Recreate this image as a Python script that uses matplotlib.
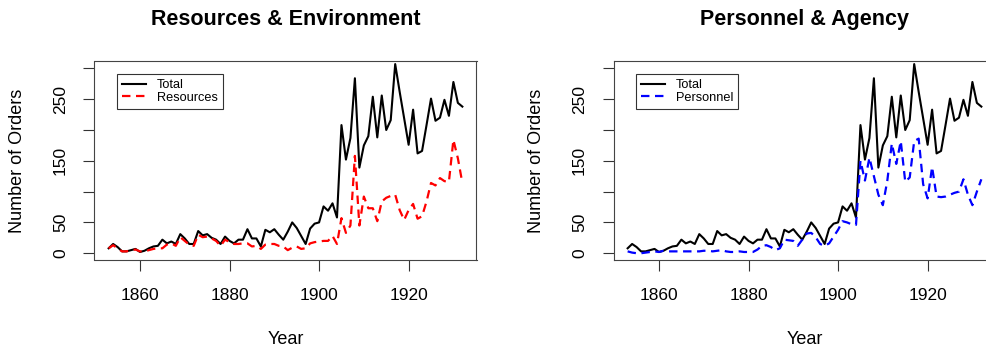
import matplotlib
matplotlib.use("Agg")
import matplotlib.pyplot as plt

plt.rcParams['font.family'] = ['Liberation Sans', 'DejaVu Sans']

# years 1853 - 1932
years = list(range(1853, 1933))

# total executive orders per year (same series in both panels)
total = [8, 15, 10, 3, 3, 5, 7, 2, 4, 8,
         11, 12, 22, 16, 19, 15, 31, 24, 15, 15,
         36, 29, 31, 25, 22, 15, 27, 20, 16, 22,
         22, 39, 24, 24, 11, 38, 34, 39, 30, 22,
         35, 50, 41, 28, 15, 40, 48, 50, 76, 69,
         81, 58, 208, 152, 187, 284, 139, 175, 190, 254,
         188, 256, 200, 216, 307, 262, 219, 176, 233, 162,
         166, 208, 251, 215, 220, 249, 223, 278, 244, 238]

resources = [8, 13, 8, 3, 3, 5, 6, 3, 3, 5,
             7, 8, 8, 14, 16, 12, 26, 20, 14, 12,
             30, 26, 27, 24, 20, 12, 22, 18, 15, 15,
             16, 16, 11, 12, 7, 14, 15, 15, 12, 11,
             5, 9, 11, 7, 8, 16, 18, 19, 20, 20,
             28, 15, 57, 33, 45, 158, 45, 92, 73, 73,
             52, 84, 90, 93, 95, 70, 54, 70, 80, 56,
             60, 84, 114, 110, 122, 117, 116, 184, 154, 114]

personnel = [3, 1, 0, 0, 1, 2, 3, 2, 4, 3,
             3, 3, 3, 3, 3, 3, 3, 4, 4, 3,
             4, 5, 3, 2, 2, 3, 2, 2, 2, 6,
             12, 13, 10, 5, 8, 22, 21, 20, 12, 22,
             32, 33, 26, 15, 12, 16, 27, 38, 52, 50,
             47, 46, 150, 118, 155, 125, 95, 78, 118, 178,
             145, 182, 116, 123, 182, 186, 112, 89, 140, 92,
             91, 92, 95, 98, 100, 120, 95, 78, 100, 120]

panels = [
    ("Resources & Environment", "Resources", resources, "#ff0000"),
    ("Personnel & Agency", "Personnel", personnel, "#0000ff"),
]

W, H = 987, 349
fig = plt.figure(figsize=(W / 100, H / 100), dpi=100)

# axes boxes in pixels (left, top, right, bottom); right panel runs off the edge
boxes = [(94.5, 61, 476.5, 260), (613.5, 61, 995.5, 260)]

for (title, name, series, col), (x0, y0, x1, y1) in zip(panels, boxes):
    ax = fig.add_axes([x0 / W, 1 - y1 / H, (x1 - x0) / W, (y1 - y0) / H])
    ax.plot(years, total, color="black", lw=1.5, label="Total")
    ax.plot(years, series, color=col, lw=1.6, linestyle=(0, (3.8, 2.5)), label=name)

    ax.set_xlim(1849.84, 1935.16)
    ax.set_ylim(-11, 312)
    ax.set_xticks([1860, 1880, 1900, 1920])
    ax.set_yticks([0, 50, 100, 150, 200, 250, 300])
    ax.set_yticklabels(["0", "50", "", "150", "", "250", ""])

    ax.tick_params(axis="both", length=8, width=0.8, labelsize=12.5, color="#333333")
    ax.tick_params(axis="x", pad=12)
    ax.tick_params(axis="y", pad=11, labelrotation=90)
    for lab in ax.get_yticklabels():
        lab.set_va("center")
    for s in ax.spines.values():
        s.set_linewidth(0.8)
        s.set_color("#444444")

    ax.set_title(title, fontsize=15.5, fontweight="bold", pad=26)
    ax.set_xlabel("Year", fontsize=13, va="center")
    ax.xaxis.set_label_coords(0.5, (y1 - 340) / (y1 - y0))
    # y label sits about 77 px left of the box
    ax.set_ylabel("Number of Orders", fontsize=13, va="center")
    ax.yaxis.set_label_coords(-77 / (x1 - x0), 0.5)

    leg = ax.legend(loc="upper left",
                    bbox_to_anchor=(22.5 / (x1 - x0), (y1 - 74) / (y1 - y0)),
                    borderaxespad=0, fontsize=9.2, frameon=True, fancybox=False,
                    handlelength=1.9, handletextpad=0.8, labelspacing=0.05,
                    borderpad=0.4)
    leg.get_frame().set_edgecolor("black")
    leg.get_frame().set_linewidth(0.8)

fig.savefig("out.png", dpi=100)
